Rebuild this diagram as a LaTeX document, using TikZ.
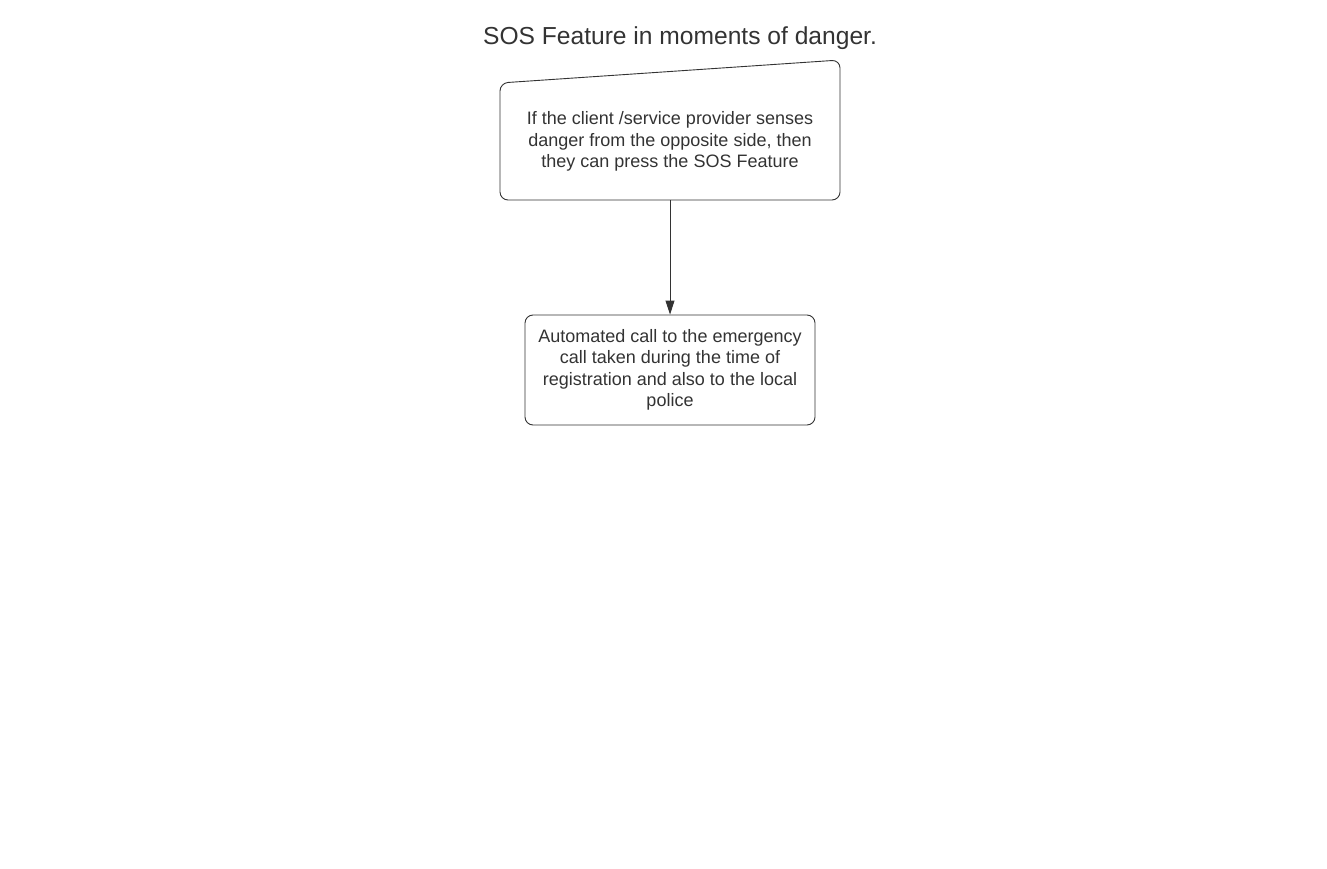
\documentclass[tikz,border=0pt]{standalone}
\usepackage{fontspec}
\setmainfont{Liberation Sans}
\usetikzlibrary{arrows.meta}
\definecolor{ink}{HTML}{333333}
\begin{document}
\begin{tikzpicture}[x=1pt,y=-1pt,
  boxtext/.style={text=ink,font=\fontsize{18}{21.5}\selectfont,align=center,inner sep=0pt},
  frame/.style={draw=ink,line width=0.9pt,rounded corners=8pt},
  conn/.style={draw=ink,line width=0.9pt,-{Triangle[length=14pt,width=9pt]}}]
\useasboundingbox (0,0) rectangle (1327,869);
\node[text=ink,font=\fontsize{24.6}{28}\selectfont,inner sep=0pt] (title) at (680,38.5) {SOS Feature in moments of danger.};
% top manual-input box
\coordinate (tl) at (500,83);
\coordinate (tr) at (840,60);
\coordinate (br) at (840,200);
\coordinate (bl) at (500,200);
\path[frame] (tl) -- (tr) -- (br) -- (bl) -- cycle;
\node[minimum width=340pt,minimum height=117pt,inner sep=0pt] (top) at (670,141.5) {};
\node[boxtext] (toptext) at (670,141.5) {If the client /service provider senses\\danger from the opposite side, then\\they can press the SOS Feature};
% bottom box
\node[frame,minimum width=290pt,minimum height=110pt,inner sep=0pt,boxtext,draw=ink] (bot) at (670,370) {Automated call to the emergency\\call taken during the time of\\registration and also to the local\\police};
\draw[conn] (top.south) -- (bot.north);
\end{tikzpicture}
\end{document}
